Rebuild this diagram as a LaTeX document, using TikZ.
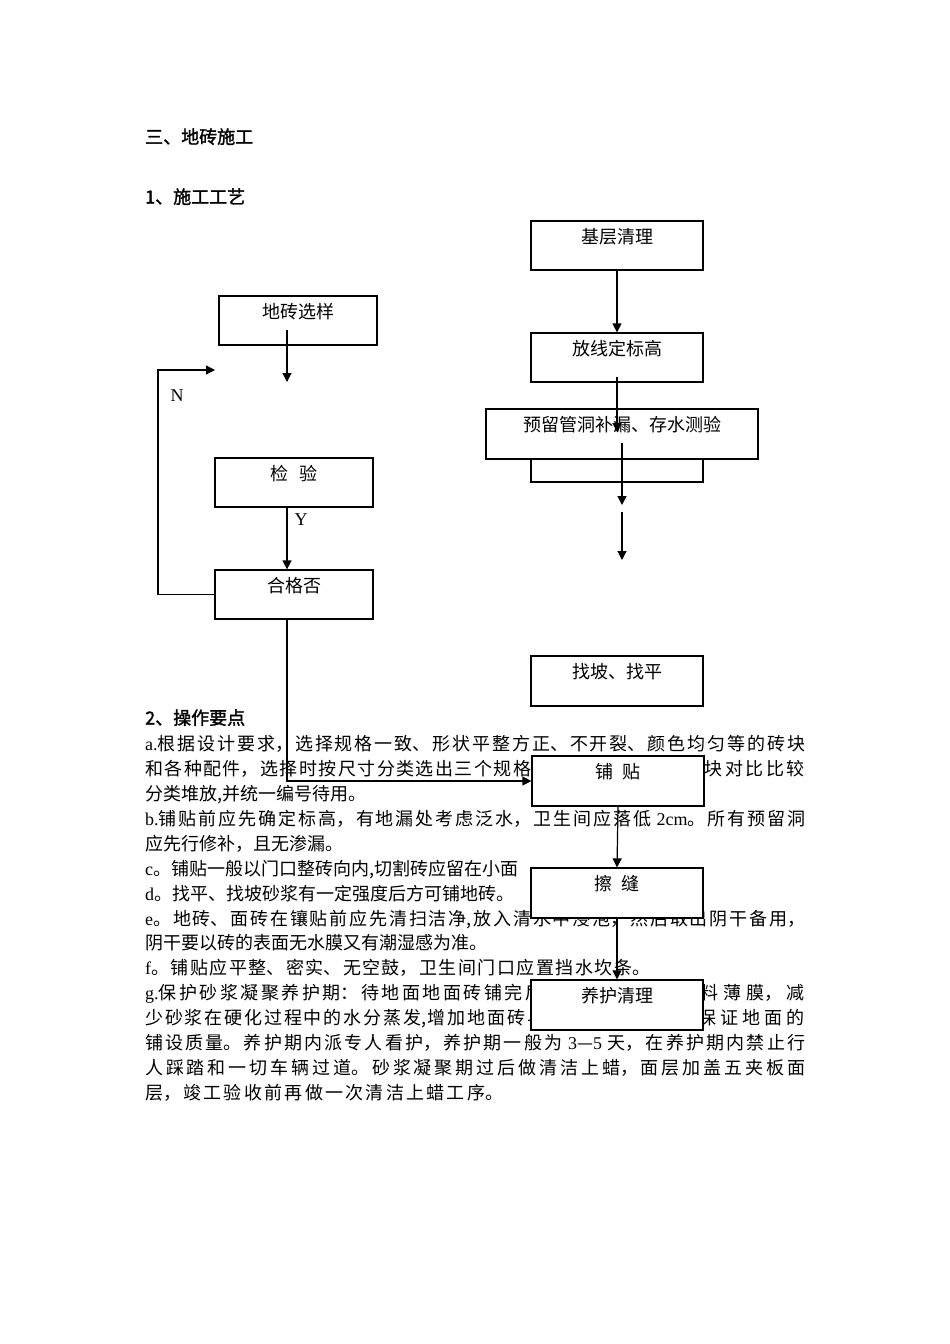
\documentclass[tikz,border=0pt]{standalone}
\usepackage{fontspec}
\setmainfont{Noto Sans CJK SC}
\newfontfamily\latf{Liberation Serif}
\newfontfamily\hdfont{Noto Sans CJK SC}[FakeBold=1.5]
\usetikzlibrary{arrows.meta}
\XeTeXlinebreaklocale "zh"
\XeTeXlinebreakskip=0pt plus 4pt
\tolerance=9999
\newcommand\jline[2]{\parbox[t]{#1}{\parfillskip=0pt\relax #2}}
\tikzset{
  fbox/.style={draw, line width=1.2pt, fill=white, minimum height=49pt,
    minimum width=172pt, inner sep=0pt, text height=13pt, text depth=18pt,
    font=\fontsize{18}{18}\selectfont},
  tl/.style={anchor=base west, inner sep=0pt, font=\fontsize{18}{22}\selectfont},
  tr/.style={anchor=base east, inner sep=0pt, font=\fontsize{18}{22}\selectfont},
  arr/.style={line width=1.2pt, -{Triangle[length=9pt,width=9pt]}},
  lab/.style={inner sep=0pt, font=\latf\fontsize{18}{18}\selectfont}
}
\begin{document}
\begin{tikzpicture}[x=1pt,y=-1pt]
\useasboundingbox (0,0) rectangle (950,1344);
\fill[white] (0,0) rectangle (950,1344);

% headings
\node[tl] (h0) at (145,143.5) {\hdfont 三、地砖施工};
\node[tl] (h1) at (145,203.5) {\hdfont 1、施工工艺};
\node[tl] (h2) at (145,724.5) {\hdfont 2、操作要点};

% body text
\node[tl] (t1) at (145,750.5) {\jline{660pt}{{\latf a.}根据设计要求，选择规格一致、形状平整方正、不开裂、颜色均匀等的砖块}};
\node[tl] (t2a) at (145,775.4) {\jline{386pt}{和各种配件，选择时按尺寸分类选出三个规格}};
\node[tr] (t2b) at (805,775.4) {\jline{100pt}{块对比比较}};
\node[tl] (t3) at (145,800.4) {分类堆放,并统一编号待用。};
\node[tl] (t4) at (145,825.3) {\jline{660pt}{{\latf b.}铺贴前应先确定标高，有地漏处考虑泛水，卫生间应落低{\latf\ 2cm}。所有预留洞}};
\node[tl] (t5) at (145,850.2) {应先行修补，且无渗漏。};
\node[tl] (t6) at (145,875.2) {{\latf c}。铺贴一般以门口整砖向内,切割砖应留在小面};
\node[tl] (t7) at (145,900.1) {{\latf d}。找平、找坡砂浆有一定强度后方可铺地砖。};
\node[tl] (t8) at (145,925.0) {\jline{660pt}{{\latf e}。地砖、面砖在镶贴前应先清扫洁净,放入清水中浸泡，然后取出阴干备用，}};
\node[tl] (t9) at (145,949.9) {阴干要以砖的表面无水膜又有潮湿感为准。};
\node[tl] (t10) at (145,974.9) {\jline{505pt}{{\latf f}。铺贴应平整、密实、无空鼓，卫生间门口应置挡水坎条。}};
\node[tl] (t11a) at (145,999.8) {\jline{398pt}{{\latf g.}保护砂浆凝聚养护期：待地面地面砖铺完后}};
\node[tr] (t11b) at (805,999.8) {\jline{104pt}{料薄膜，减}};
\node[tl] (t12a) at (145,1024.7) {\jline{400pt}{少砂浆在硬化过程中的水分蒸发,增加地面砖与}};
\node[tr] (t12b) at (805,1024.7) {\jline{106pt}{保证地面的}};
\node[tl] (t13) at (145,1049.7) {\jline{660pt}{铺设质量。养护期内派专人看护，养护期一般为{\latf\ 3}—{\latf 5 }天，在养护期内禁止行}};
\node[tl] (t14) at (145,1074.6) {\jline{660pt}{人踩踏和一切车辆过道。砂浆凝聚期过后做清洁上蜡，面层加盖五夹板面}};
\node[tl] (t15) at (145,1099.5) {\jline{358pt}{层，竣工验收前再做一次清洁上蜡工序。}};

% right column boxes
\node[fbox] (b1) at (617,245.5) {基层清理};
\node[fbox] (b2) at (617,357.5) {放线定标高};
\node[fbox] (b3h) at (617,457.5) {};
\node[fbox, minimum width=272pt, minimum height=50pt] (b3) at (622,434) {预留管洞补漏、存水测验};
\node[fbox, minimum height=50pt] (b4) at (617,681) {找坡、找平};
\node[fbox, minimum height=50pt] (b5) at (618,781) {铺\hspace{9pt}贴};
\node[fbox, minimum height=50pt] (b6) at (617,893) {擦\hspace{9pt}缝};
\node[fbox, minimum height=50pt] (b7) at (617,1005) {养护清理};

% left column boxes
\node[fbox, minimum width=158pt] (l1) at (298,320.5) {地砖选样};
\node[fbox, minimum width=158pt] (l2) at (294,482.5) {检\hspace{11pt}验};
\node[fbox, minimum width=158pt] (l3) at (294,594.5) {合格否};

% labels
\node[lab] (ylab) at (301,520) {Y};
\node[lab] (nlab) at (177,396) {N};

% free ends
\coordinate (p1) at (617,377);
\coordinate (p2) at (617,432);
\coordinate (p3) at (622,443);
\coordinate (p4) at (622,505);
\coordinate (p5) at (622,512);
\coordinate (p6) at (622,560);
\coordinate (p7) at (287,330);
\coordinate (p8) at (287,382);
\coordinate (nl) at (158,370);
\coordinate (nr) at (215,370);

% connectors
\draw[arr] (b1.south) -- (b2.north);
\draw[arr] (p1) -- (p2);
\draw[arr] (p3) -- (p4);
\draw[arr] (p5) -- (p6);
\draw[arr] (p7) -- (p8);
\draw[arr] (l2.south -| p7) -- (l3.north -| p7);
\draw[arr] (l3.west) -| (nl) -- (nr);
\draw[arr] (l3.south -| p7) |- (b5.west);
\draw[arr] (b5.south) -- (b6.north);
\draw[arr] (b6.south) -- (b7.north);
\end{tikzpicture}
\end{document}
